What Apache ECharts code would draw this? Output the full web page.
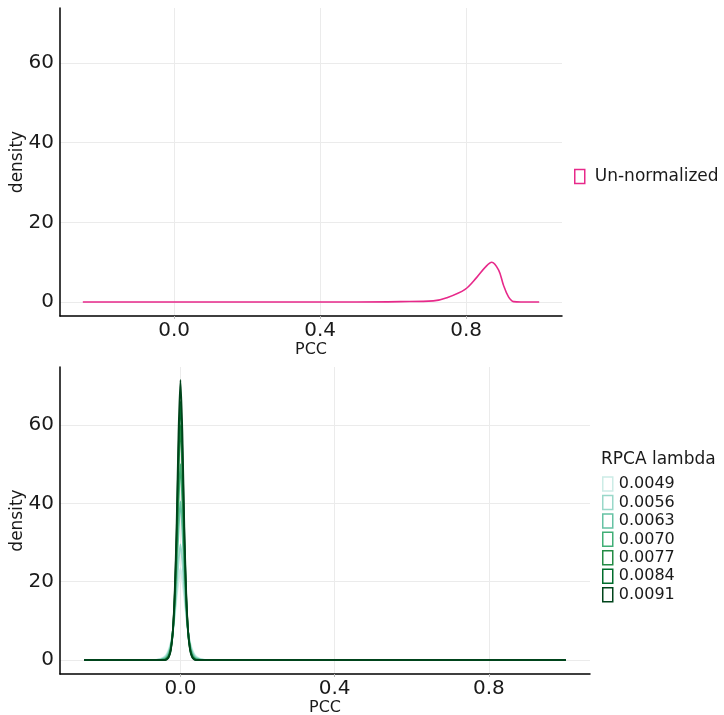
<!DOCTYPE html>
<html>
<head>
<meta charset="utf-8">
<script src="https://cdn.jsdelivr.net/npm/echarts@6/dist/echarts.min.js"></script>
<style>
  html, body { margin: 0; padding: 0; background: #fff; }
  #chart { width: 724px; height: 715px; }
</style>
</head>
<body>
<div id="chart"></div>
<script>
// Tick labels shared by both panels
const pccTicks = [0, 0.4, 0.8];
const densityTicks = [0, 20, 40, 60];

// Upper panel: density of PCC for the un-normalized data
const pccRaw = [-0.25, 0.50, 0.62, 0.71, 0.747, 0.797, 0.829, 0.852, 0.870, 0.889, 0.902, 0.916, 0.93, 0.95, 1.0];
const densityRaw = [0, 0, 0.1, 0.3, 1.1, 3.2, 6.2, 8.7, 10.0, 8.0, 4.3, 1.3, 0.1, 0, 0];

// Lower panel: density of PCC after RPCA, one curve per lambda
const lambdas = ['0.0049', '0.0056', '0.0063', '0.0070', '0.0077', '0.0084', '0.0091'];
const pccRpca = [-0.25, -0.07, -0.06, -0.05, -0.04, -0.035, -0.03, -0.025, -0.02, -0.015, -0.01, -0.005, 0,
                 0.005, 0.01, 0.015, 0.02, 0.025, 0.03, 0.035, 0.04, 0.05, 0.06, 0.07, 1.0];
const density0049 = [0, 0, 0.1, 0.35, 1.0, 1.7, 2.8, 4.5, 7, 11, 16, 20, 23.5, 20, 16, 11, 7, 4.5, 2.8, 1.7, 1.0, 0.35, 0.1, 0, 0];
const density0056 = [0, 0, 0.05, 0.2, 0.7, 1.3, 2.3, 4, 7, 12, 18, 25, 29.5, 25, 18, 12, 7, 4, 2.3, 1.3, 0.7, 0.2, 0.05, 0, 0];
const density0063 = [0, 0, 0, 0.1, 0.4, 0.9, 1.8, 3.5, 7, 13, 22, 33, 40.5, 33, 22, 13, 7, 3.5, 1.8, 0.9, 0.4, 0.1, 0, 0, 0];
const density0070 = [0, 0, 0, 0.05, 0.2, 0.6, 1.4, 3.2, 7, 14.5, 26, 40, 50, 40, 26, 14.5, 7, 3.2, 1.4, 0.6, 0.2, 0.05, 0, 0, 0];
const density0077 = [0, 0, 0, 0, 0.1, 0.4, 1.1, 2.9, 7, 15.5, 29, 48, 60, 48, 29, 15.5, 7, 2.9, 1.1, 0.4, 0.1, 0, 0, 0, 0];
const density0084 = [0, 0, 0, 0, 0.05, 0.3, 0.9, 2.7, 7, 16, 31.5, 53, 66, 53, 31.5, 16, 7, 2.7, 0.9, 0.3, 0.05, 0, 0, 0, 0];
const density0091 = [0, 0, 0, 0, 0, 0.2, 0.8, 2.5, 7, 17, 34, 58, 71.5, 58, 34, 17, 7, 2.5, 0.8, 0.2, 0, 0, 0, 0, 0];
const densityRpca = [density0049, density0056, density0063, density0070, density0077, density0084, density0091];

const rawColor = '#e7298a';
const greens = ['#ccece6', '#99d8c9', '#66c2a4', '#41ae76', '#238b45', '#006d2c', '#00441b'];

const font = 'DejaVu Sans';
const pairs = (xs, ys) => xs.map((x, i) => [x, ys[i]]);

function xAxisFor(gridIndex, min, max) {
  return {
    type: 'value', gridIndex, min, max,
    name: 'PCC', nameLocation: 'middle', nameGap: 26, nameMoveOverlap: false,
    nameTextStyle: { fontFamily: font, fontSize: 16, color: '#1a1a1a' },
    axisLine: { show: true, onZero: false, lineStyle: { color: '#000', width: 1.5 } },
    axisTick: { show: true, length: 3, customValues: pccTicks, lineStyle: { color: '#bbb' } },
    axisLabel: { customValues: pccTicks, fontFamily: font, fontSize: 20, color: '#1a1a1a', margin: 5,
                 formatter: v => v.toFixed(1) },
    splitLine: { show: true, lineStyle: { color: '#ebebeb', width: 1 } }
  };
}
function yAxisFor(gridIndex, min, max) {
  return {
    type: 'value', gridIndex, min, max,
    name: 'density', nameLocation: 'middle', nameGap: 34, nameMoveOverlap: false,
    nameTextStyle: { fontFamily: font, fontSize: 17, color: '#1a1a1a' },
    axisLine: { show: true, onZero: false, lineStyle: { color: '#000', width: 1.5 } },
    axisTick: { show: false, customValues: densityTicks },
    axisLabel: { customValues: densityTicks, fontFamily: font, fontSize: 20, color: '#1a1a1a', margin: 6 },
    splitLine: { show: true, lineStyle: { color: '#ebebeb', width: 1 } }
  };
}

const series = [{
  name: 'Un-normalized', type: 'line', xAxisIndex: 0, yAxisIndex: 0,
  data: pairs(pccRaw, densityRaw), smooth: 0.35, showSymbol: false,
  lineStyle: { color: rawColor, width: 1.6 }, itemStyle: { color: rawColor }
}];
lambdas.forEach((lam, k) => {
  series.push({
    name: lam, type: 'line', xAxisIndex: 1, yAxisIndex: 1,
    data: pairs(pccRpca, densityRpca[k]), smooth: 0.25, showSymbol: false,
    lineStyle: { color: greens[k], width: 1.8 }, itemStyle: { color: greens[k] }
  });
});

// Legend keys are hollow boxes outlined in each series colour
const keyItem = (name, color) => ({
  name, icon: 'rect',
  itemStyle: { color: '#fff', borderColor: color, borderWidth: 1.5 }
});

const chart = echarts.init(document.getElementById('chart'), null, { renderer: 'canvas' });
chart.setOption({
  animation: false,
  backgroundColor: '#fff',
  grid: [
    { left: 60, top: 8, right: 162, height: 308, outerBoundsMode: 'none', containLabel: false },
    { left: 60, top: 367, right: 134, height: 307, outerBoundsMode: 'none', containLabel: false }
  ],
  xAxis: [xAxisFor(0, -0.3125, 1.0625), xAxisFor(1, -0.3125, 1.0625)],
  yAxis: [yAxisFor(0, -3.5, 73.8), yAxisFor(1, -3.58, 74.8)],
  title: {
    text: 'RPCA lambda', left: 601, top: 451, padding: 0,
    textStyle: { fontFamily: font, fontSize: 17, fontWeight: 'normal', color: '#1a1a1a' }
  },
  legend: [
    {
      data: [keyItem('Un-normalized', rawColor)], left: 574, top: 168, padding: 0,
      itemWidth: 10, itemHeight: 14,
      textStyle: { fontFamily: font, fontSize: 17, color: '#1a1a1a', padding: [0, 0, 0, 5] },
      selectedMode: false
    },
    {
      data: lambdas.map((lam, k) => keyItem(lam, greens[k])),
      orient: 'vertical', left: 602, top: 476, padding: 0,
      itemWidth: 10, itemHeight: 14, itemGap: 2.45,
      textStyle: { fontFamily: font, fontSize: 16, color: '#1a1a1a', padding: [0, 0, 0, 1] },
      selectedMode: false
    }
  ],
  series
});
</script>
</body>
</html>
